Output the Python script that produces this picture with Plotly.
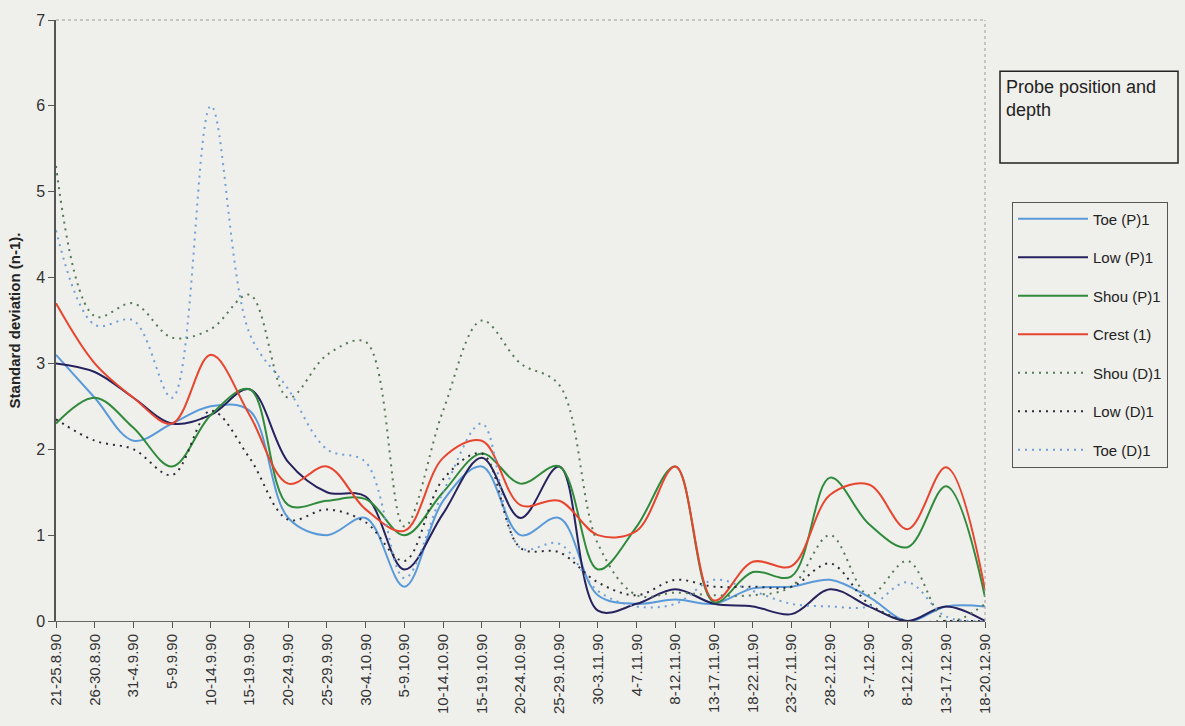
import plotly.graph_objects as go

# Sampling periods (1990)
periods = [
    "21-25.8.90", "26-30.8.90", "31-4.9.90", "5-9.9.90", "10-14.9.90",
    "15-19.9.90", "20-24.9.90", "25-29.9.90", "30-4.10.90", "5-9.10.90",
    "10-14.10.90", "15-19.10.90", "20-24.10.90", "25-29.10.90", "30-3.11.90",
    "4-7.11.90", "8-12.11.90", "13-17.11.90", "18-22.11.90", "23-27.11.90",
    "28-2.12.90", "3-7.12.90", "8-12.12.90", "13-17.12.90", "18-20.12.90",
]

# Standard deviation (n-1) per probe position and depth
toe_p1 = [3.1, 2.6, 2.1, 2.3, 2.5, 2.45, 1.2, 1.0, 1.2, 0.4, 1.4, 1.8, 1.0,
          1.2, 0.3, 0.2, 0.25, 0.2, 0.38, 0.4, 0.48, 0.28, 0.0, 0.17, 0.17]
low_p1 = [3.0, 2.9, 2.6, 2.3, 2.4, 2.7, 1.85, 1.5, 1.45, 0.6, 1.25, 1.9, 1.2,
          1.8, 0.12, 0.2, 0.37, 0.2, 0.17, 0.08, 0.37, 0.17, 0.0, 0.17, 0.0]
shou_p1 = [2.3, 2.6, 2.25, 1.8, 2.4, 2.7, 1.35, 1.4, 1.42, 1.0, 1.5, 1.95, 1.6,
           1.8, 0.6, 1.1, 1.8, 0.22, 0.57, 0.52, 1.67, 1.13, 0.86, 1.57, 0.28]
crest_1 = [3.7, 3.0, 2.6, 2.3, 3.1, 2.4, 1.6, 1.8, 1.3, 1.05, 1.9, 2.1, 1.35,
           1.4, 1.0, 1.05, 1.8, 0.24, 0.69, 0.64, 1.47, 1.59, 1.07, 1.79, 0.36]
shou_d1 = [5.3, 3.55, 3.7, 3.3, 3.4, 3.8, 2.6, 3.1, 3.25, 1.1, 2.45, 3.5, 3.0,
           2.75, 0.9, 0.3, 0.33, 0.3, 0.3, 0.4, 1.0, 0.3, 0.7, 0.0, 0.2]
low_d1 = [2.35, 2.1, 2.0, 1.7, 2.45, 1.9, 1.18, 1.3, 1.15, 0.7, 1.65, 1.95, 0.85,
          0.8, 0.45, 0.3, 0.48, 0.4, 0.4, 0.4, 0.67, 0.2, 0.0, 0.0, 0.0]
toe_d1 = [4.55, 3.45, 3.5, 2.6, 6.0, 3.35, 2.7, 2.0, 1.85, 0.5, 1.5, 2.3, 0.85,
          0.9, 0.35, 0.17, 0.2, 0.48, 0.35, 0.2, 0.17, 0.17, 0.45, 0.05, 0.0]

series = [
    ("Toe (P)1", toe_p1, "#5a9ad8", "solid"),
    ("Low (P)1", low_p1, "#26225e", "solid"),
    ("Shou (P)1", shou_p1, "#2f8a3c", "solid"),
    ("Crest (1)", crest_1, "#e8452f", "solid"),
    ("Shou (D)1", shou_d1, "#557a55", "2px,5px"),
    ("Low (D)1", low_d1, "#2c2c38", "2px,5px"),
    ("Toe (D)1", toe_d1, "#6f9fd6", "2px,5px"),
]

BG = "#efefeb"
FONT = "Liberation Sans, Arial, sans-serif"

fig = go.Figure()
for name, vals, color, dash in series:
    fig.add_trace(go.Scatter(
        x=periods, y=vals, name=name, mode="lines",
        line=dict(color=color, width=2, dash=dash, shape="spline", smoothing=1.0),
        legendgroup=name,
    ))

# plot-area geometry in pixels
W, H = 1185, 726
L, R, T, B = 56, 985, 16, 625


def px(x):
    return (x - L) / (R - L)


def py(y):
    return (B - y) / (B - T)


fig.update_layout(
    width=W, height=H,
    margin=dict(l=L, r=W - R, t=T, b=H - B),
    paper_bgcolor=BG, plot_bgcolor=BG,
    font=dict(family=FONT, size=15, color="#333"),
    showlegend=True,
    legend=dict(
        x=px(1012), y=py(200), xanchor="left", yanchor="top",
        bordercolor="#555", borderwidth=1, bgcolor=BG,
        font=dict(size=15, color="#222"),
        tracegroupgap=16, itemwidth=70,
    ),
    xaxis=dict(
        type="category", range=[0, len(periods) - 1],
        tickangle=-90, ticks="outside", ticklen=6, tickcolor="#555",
        showline=True, linecolor="#666", linewidth=1,
        showgrid=False, zeroline=False,
        tickfont=dict(size=15, color="#333"),
    ),
    yaxis=dict(
        range=[0, 7], dtick=1, ticks="outside", ticklen=6, tickcolor="#555",
        showline=True, linecolor="#555", linewidth=1.5,
        showgrid=False, zeroline=False,
        tickfont=dict(size=16, color="#333"),
        title=dict(text="<b>Standard deviation (n-1).</b>",
                   font=dict(size=15, color="#222"), standoff=12),
    ),
    shapes=[
        dict(type="line", xref="paper", yref="paper", x0=0, x1=1, y0=1, y1=1,
             line=dict(color="#9a9a9a", width=1, dash="dot")),
        dict(type="line", xref="paper", yref="paper", x0=1, x1=1, y0=0, y1=1,
             line=dict(color="#9a9a9a", width=1, dash="dot")),
        dict(type="rect", xref="paper", yref="paper",
             x0=px(1000), x1=px(1178), y0=py(161), y1=py(68),
             line=dict(color="#222", width=1.5), fillcolor=BG, layer="above"),
    ],
    annotations=[
        dict(text="Probe position and<br>depth", xref="paper", yref="paper",
             x=px(1004), y=py(72), xanchor="left", yanchor="top",
             align="left", showarrow=False,
             font=dict(size=18, color="#222")),
    ],
)

fig.write_html("out.html")
